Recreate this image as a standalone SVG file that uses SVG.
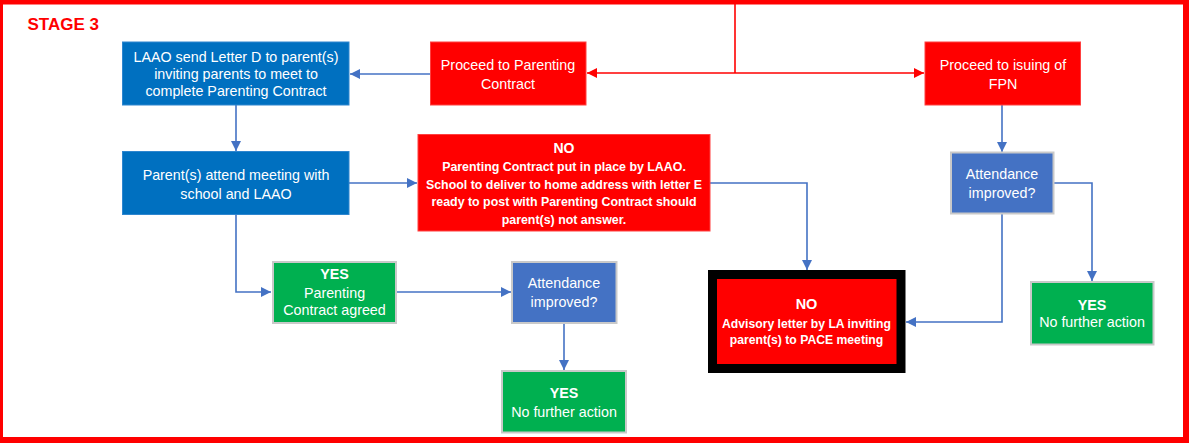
<svg xmlns="http://www.w3.org/2000/svg" width="1189" height="443" viewBox="0 0 1189 443">
<style>
text{font-family:"Liberation Sans",Arial,sans-serif;fill:#fff;text-anchor:middle}
.t{font-size:14.3px}
.b{font-weight:bold}
.s{font-size:12.4px;font-weight:bold}
.dblue{fill:#0070C0;stroke:#2E86CF;stroke-width:1}
.mblue{fill:#4472C4;stroke:#C9C9C9;stroke-width:2}
.green{fill:#00B050;stroke:#C9C9C9;stroke-width:2}
.red{fill:#FF0000;stroke:#FF4040;stroke-width:1}
.bc{fill:none;stroke:#4472C4;stroke-width:1.6;marker-end:url(#ab)}
.rc{fill:none;stroke:#FF0000;stroke-width:1.6}
</style>
<defs>
<marker id="ab" markerUnits="userSpaceOnUse" markerWidth="11" markerHeight="11" refX="10" refY="5" orient="auto"><path d="M0,0 L10,5 L0,10 z" fill="#4472C4"/></marker>
<marker id="ar" markerUnits="userSpaceOnUse" markerWidth="11" markerHeight="11" refX="10" refY="5" orient="auto"><path d="M0,0 L10,5 L0,10 z" fill="#FF0000"/></marker>
</defs>
<rect width="1189" height="443" fill="#fff"/>
<path d="M0 0H1189V443H0Z M3 4.5H1183V437H3Z" fill="#FF0000" fill-rule="evenodd"/>
<text x="27.5" y="30" style="font-size:17px;font-weight:bold;fill:#FF0000;text-anchor:start">STAGE 3</text>

<g id="connectors">
<path class="rc" d="M735 4V73"/>
<path class="rc" d="M735 73H587" marker-end="url(#ar)"/>
<path class="rc" d="M735 73H924" marker-end="url(#ar)"/>
<path class="bc" d="M430 74H350"/>
<path class="bc" d="M236 105V151"/>
<path class="bc" d="M349 183H417"/>
<path class="bc" d="M236 214V292H271"/>
<path class="bc" d="M396 292H511"/>
<path class="bc" d="M564 323V370"/>
<path class="bc" d="M710 183H807V270"/>
<path class="bc" d="M1002 105V152"/>
<path class="bc" d="M1053 183H1092V281"/>
<path class="bc" d="M1002 213V322H906"/>
</g>

<g id="letterD">
<rect class="dblue" x="122.5" y="42" width="226.5" height="63"/>
<text class="t" x="236" y="61.5">LAAO send Letter D to parent(s)</text>
<text class="t" x="236" y="79">inviting parents to meet to</text>
<text class="t" x="236" y="96">complete Parenting Contract</text>
</g>

<g id="proceedContract">
<rect class="red" x="430.5" y="42" width="155.5" height="63"/>
<text class="t" x="508" y="70">Proceed to Parenting</text>
<text class="t" x="508" y="88.5">Contract</text>
</g>

<g id="proceedFPN">
<rect class="red" x="925" y="42" width="155.5" height="63"/>
<text class="t" x="1003" y="70">Proceed to isuing of</text>
<text class="t" x="1003" y="88.5">FPN</text>
</g>

<g id="attendMeeting">
<rect class="dblue" x="122.5" y="151.5" width="226.5" height="63"/>
<text class="t" x="236" y="180">Parent(s) attend meeting with</text>
<text class="t" x="236" y="198.5">school and LAAO</text>
</g>

<g id="noContract">
<rect class="red" x="418" y="134.5" width="292" height="96.5"/>
<text class="b" x="564" y="152.8" style="font-size:14px">NO</text>
<text class="s" x="564" y="171">Parenting Contract put in place by LAAO.</text>
<text class="s" x="564" y="188.7">School to deliver to home address with letter E</text>
<text class="s" x="564" y="206.2">ready to post with Parenting Contract should</text>
<text class="s" x="564" y="224.4">parent(s) not answer.</text>
</g>

<g id="attendRight">
<rect class="mblue" x="951" y="152.5" width="102.5" height="61"/>
<text class="t" x="1002" y="179.4">Attendance</text>
<text class="t" x="1002" y="198.4">improved?</text>
</g>

<g id="yesContract">
<rect class="green" x="273" y="262" width="123" height="61"/>
<text class="t b" x="334.5" y="278.6">YES</text>
<text class="t" x="334.5" y="297.8">Parenting</text>
<text class="t" x="334.5" y="315">Contract agreed</text>
</g>

<g id="attendMid">
<rect class="mblue" x="512" y="262" width="104.5" height="61"/>
<text class="t" x="564" y="288.4">Attendance</text>
<text class="t" x="564" y="306.8">improved?</text>
</g>

<g id="yesMid">
<rect class="green" x="502" y="371" width="124" height="61.5"/>
<text class="t b" x="564" y="398">YES</text>
<text class="t" x="564" y="416.8">No further action</text>
</g>

<g id="advisory">
<rect x="712.5" y="274.5" width="188.5" height="94" fill="#FF0000" stroke="#000" stroke-width="9"/>
<text class="b" x="806.5" y="308.5" style="font-size:14.5px">NO</text>
<text class="s" x="806.5" y="327.6" style="font-size:12.2px">Advisory letter by LA inviting</text>
<text class="s" x="806.5" y="344.4" style="font-size:12.2px">parent(s) to PACE meeting</text>
</g>

<g id="yesRight">
<rect class="green" x="1031" y="282" width="122.5" height="62.5"/>
<text class="t b" x="1092" y="310.2">YES</text>
<text class="t" x="1092" y="326.8">No further action</text>
</g>
</svg>
